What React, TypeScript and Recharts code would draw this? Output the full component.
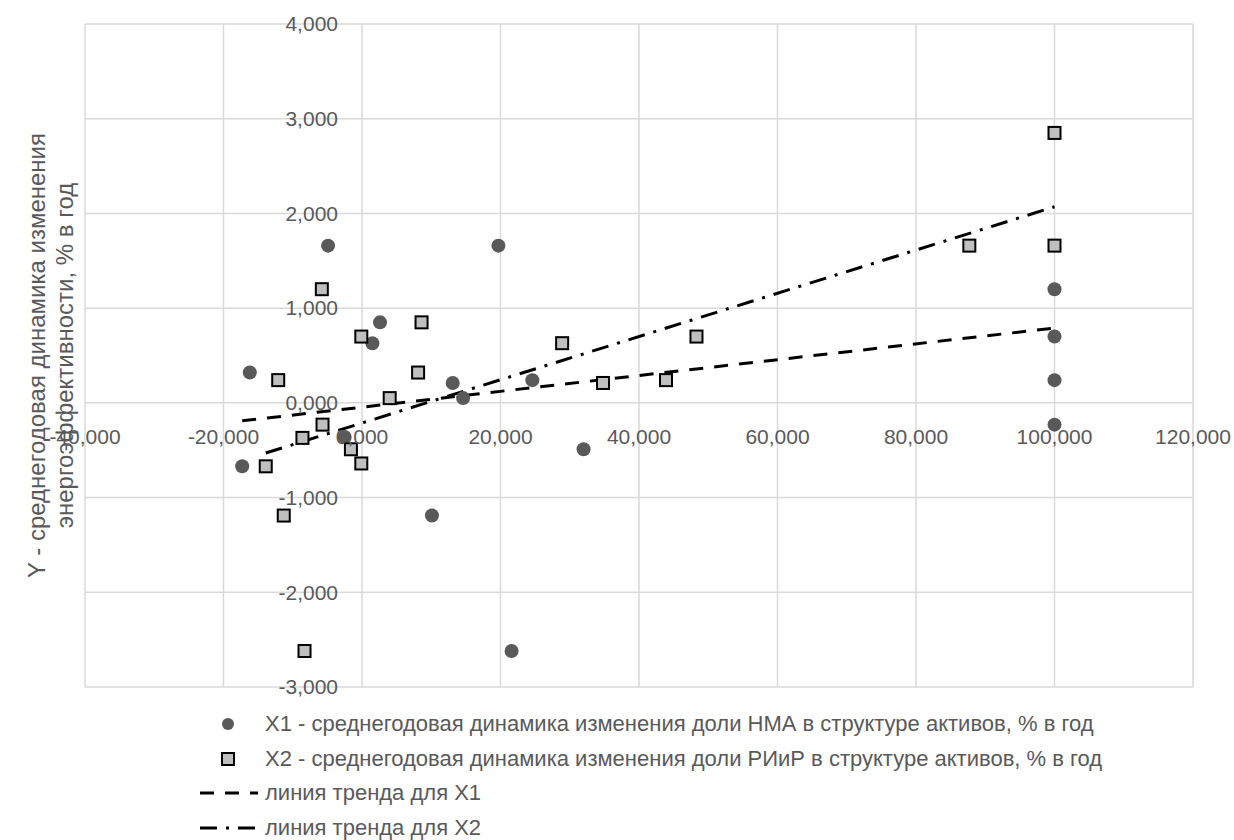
import { ScatterChart, Scatter, XAxis, YAxis, CartesianGrid } from 'recharts';

// X1 - НМА (circles)
const x1X = [-17.3, -16.2, -4.9, -2.5, 1.5, 2.6, 10.1, 13.1, 14.6, 19.7, 21.6, 24.6, 32.0, 100, 100, 100, 100];
const x1Y = [-0.67, 0.32, 1.66, -0.36, 0.63, 0.85, -1.19, 0.21, 0.05, 1.66, -2.62, 0.24, -0.49, 1.2, 0.7, 0.24, -0.23];

// X2 - РИиР (squares)
const x2X = [-13.9, -12.1, -11.3, -8.6, -8.3, -5.8, -5.7, -1.6, -0.1, -0.1, 4.0, 8.1, 8.6, 28.9, 34.8, 43.9, 48.3, 87.7, 100, 100];
const x2Y = [-0.67, 0.24, -1.19, -0.37, -2.62, 1.2, -0.23, -0.49, 0.7, -0.64, 0.05, 0.32, 0.85, 0.63, 0.21, 0.24, 0.7, 1.66, 2.85, 1.66];

// trend lines (end points)
const trend1X = [-17.3, 100];
const trend1Y = [-0.19, 0.79];
const trend2X = [-13.9, 100];
const trend2Y = [-0.53, 2.07];

const xTicks = [-40, -20, 0, 20, 40, 60, 80, 100, 120];
const yTicks = [-3, -2, -1, 0, 1, 2, 3, 4];

const legendLabels = [
  'X1 - среднегодовая динамика изменения доли НМА в структуре активов, % в год',
  'X2 - среднегодовая динамика изменения доли РИиР в структуре активов, % в год',
  'линия тренда для X1',
  'линия тренда для X2',
];
const yTitle = ['Y - среднегодовая динамика изменения', 'энергоэффективности, % в год'];

const toPts = (xs: number[], ys: number[]) => xs.map((x, i) => ({ x, y: ys[i] }));

const W = 1226;
const H = 832;
const AX = 30; // size given to both axes
const M = { top: 16, right: 41, bottom: 153 - AX, left: 77 - AX };
const PL = M.left + AX;
const PW = W - PL - M.right;
const PH = H - M.top - (M.bottom + AX);
const zeroX = PL + (PW * (0 - xTicks[0])) / (xTicks[xTicks.length - 1] - xTicks[0]);
const zeroY = M.top + (PH * yTicks[yTicks.length - 1]) / (yTicks[yTicks.length - 1] - yTicks[0]);

const FONT = '"Liberation Sans", Arial, sans-serif';
const TXT = '#595959';
const fmt = (v: number) => v.toFixed(3).replace('.', ',');

const XTick = (p: any) => (
  <text x={p.x} y={zeroY + 34} dy="0.35em" textAnchor="middle" fontSize={21} fontFamily={FONT} fill={TXT}>
    {fmt(p.payload.value)}
  </text>
);
const YTick = (p: any) => (
  <text x={zeroX - 24} y={p.y} dy="0.35em" textAnchor="end" fontSize={21} fontFamily={FONT} fill={TXT}>
    {fmt(p.payload.value)}
  </text>
);

const Dot = (p: any) => <circle cx={p.cx} cy={p.cy} r={7} fill="#595959" />;
const Sq = (p: any) => (
  <rect x={p.cx - 6} y={p.cy - 6} width={12} height={12} fill="#bfbfbf" stroke="#000" strokeWidth={2} />
);
const NoDot = () => <g />;

const dash1 = '14 11';
const dash2 = '17 9 3 9';

const legendIcon = (i: number) => {
  if (i === 0) return <circle cx={28} cy={10} r={6} fill="#595959" />;
  if (i === 1) return <rect x={22} y={4} width={12} height={12} fill="#bfbfbf" stroke="#000" strokeWidth={2} />;
  return (
    <line x1={0} y1={10} x2={58} y2={10} stroke="#000" strokeWidth={3} strokeDasharray={i === 2 ? dash1 : dash2} />
  );
};

export default function App() {
  return (
    <div style={{ width: 1234, height: 840, padding: '8px 0 0 8px', boxSizing: 'border-box' }}>
      <style>{'body { margin: 0; }'}</style>
      <div style={{ position: 'relative', width: W, height: H }}>
        <ScatterChart width={W} height={H} margin={M} style={{ overflow: 'visible' }}>
          <CartesianGrid stroke="#d9d9d9" strokeWidth={1.5} />
          <XAxis
            type="number"
            dataKey="x"
            domain={[xTicks[0], xTicks[xTicks.length - 1]]}
            ticks={xTicks}
            height={AX}
            axisLine={false}
            tickLine={false}
            tick={XTick}
            interval={0}
          />
          <YAxis
            type="number"
            dataKey="y"
            domain={[yTicks[0], yTicks[yTicks.length - 1]]}
            ticks={yTicks}
            width={AX}
            axisLine={false}
            tickLine={false}
            tick={YTick}
            interval={0}
          />
          <Scatter
            data={toPts(trend1X, trend1Y)}
            shape={NoDot}
            line={{ stroke: '#000', strokeWidth: 3, strokeDasharray: dash1 }}
            isAnimationActive={false}
          />
          <Scatter
            data={toPts(trend2X, trend2Y)}
            shape={NoDot}
            line={{ stroke: '#000', strokeWidth: 3, strokeDasharray: dash2 }}
            isAnimationActive={false}
          />
          <Scatter data={toPts(x1X, x1Y)} shape={Dot} isAnimationActive={false} />
          <Scatter data={toPts(x2X, x2Y)} shape={Sq} isAnimationActive={false} />
        </ScatterChart>

        <svg style={{ position: 'absolute', left: 0, top: 0 }} width={80} height={H}>
          {yTitle.map((t, i) => (
            <text
              key={i}
              transform={`translate(${28 + i * 28}, ${M.top + PH / 2}) rotate(-90)`}
              textAnchor="middle"
              dominantBaseline="central"
              fontSize={24}
              fontFamily={FONT}
              fill={TXT}
            >
              {t}
            </text>
          ))}
        </svg>

        <div style={{ position: 'absolute', left: 192, top: 699, fontFamily: FONT, fontSize: 22, color: TXT }}>
          {legendLabels.map((t, i) => (
            <div key={i} style={{ display: 'flex', alignItems: 'center', height: 34.5, whiteSpace: 'nowrap' }}>
              <svg width={65} height={20}>{legendIcon(i)}</svg>
              <span>{t}</span>
            </div>
          ))}
        </div>
      </div>
    </div>
  );
}
